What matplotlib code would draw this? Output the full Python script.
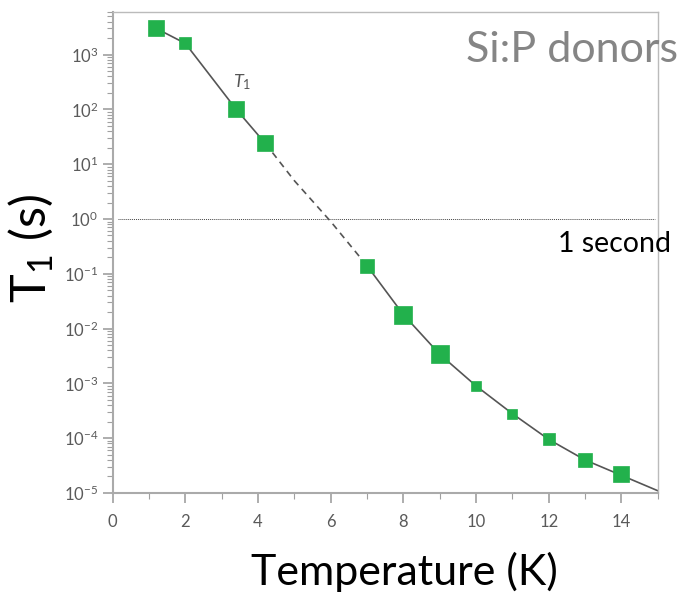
import matplotlib
matplotlib.use('Agg')
import matplotlib.pyplot as plt
from matplotlib.ticker import LogLocator, MultipleLocator, NullFormatter

plt.rcParams['font.family'] = ['Lato', 'DejaVu Sans']
plt.rcParams['mathtext.fontset'] = 'custom'
plt.rcParams['mathtext.rm'] = 'Lato'
plt.rcParams['mathtext.it'] = 'Lato:italic'

# measured T1 points (temperature in K, T1 in s)
temp = [1.2, 2.0, 3.4, 4.2, 7.0, 8.0, 9.0, 10.0, 11.0, 12.0, 13.0, 14.0]
t1 = [3000, 1600, 100, 24, 0.14, 0.018, 0.0034, 0.0009, 0.00028, 0.000095, 0.00004, 0.000022]
msize = [17, 13, 17, 16, 14, 18, 18, 10, 11, 13, 15, 16]  # marker side in px

# fitted curve
fit_t_a = [1.2, 2.0, 3.4, 4.2]
fit_y_a = [3000, 1600, 100, 24]
fit_t_b = [4.2, 5.0, 6.0, 7.0]
fit_y_b = [24, 5.0, 0.9, 0.14]
fit_t_c = [7.0, 8.0, 9.0, 10.0, 11.0, 12.0, 13.0, 14.0, 15.0]
fit_y_c = [0.14, 0.018, 0.0034, 0.0009, 0.00028, 0.000095, 0.00004, 0.000021, 0.000011]

fig = plt.figure(figsize=(6.83, 5.99), dpi=100)
ax = fig.add_axes([0.165, 0.177, 0.798, 0.803])

ax.plot(fit_t_a, fit_y_a, color='#555555', lw=1.2, zorder=2)
ax.plot(fit_t_b, fit_y_b, color='#555555', lw=1.2, ls=(0, (4, 3)), zorder=2)
ax.plot(fit_t_c, fit_y_c, color='#555555', lw=1.2, zorder=2)
for x, y, s in zip(temp, t1, msize):
    ax.plot(x, y, marker='s', ms=s / 1.39, color='#22b14c', mec='#22b14c', mew=0.5,
            ls='none', zorder=3)

# 1 second reference line
ax.axhline(1, xmin=0.01, xmax=0.995, color='#444444', lw=0.7, ls=(0, (1, 1)), zorder=1)

ax.set_yscale('log')
ax.set_xlim(0, 15)
ax.set_ylim(1e-5, 6000)
ax.yaxis.set_major_locator(LogLocator(base=10, numticks=20))
ax.yaxis.set_minor_locator(LogLocator(base=10, subs=range(2, 10), numticks=20))
ax.yaxis.set_minor_formatter(NullFormatter())
ax.xaxis.set_major_locator(MultipleLocator(2))
ax.xaxis.set_minor_locator(MultipleLocator(1))

for side in ['left', 'bottom']:
    ax.spines[side].set_color('#aaaaaa')
    ax.spines[side].set_linewidth(1.5)
for side in ['top', 'right']:
    ax.spines[side].set_color('#bbbbbb')
    ax.spines[side].set_linewidth(1.0)
ax.tick_params(which='both', colors='#a0a0a0', labelcolor='#5a5a5a', labelsize=12)
ax.tick_params(which='major', length=7, width=1.2)
ax.tick_params(which='minor', length=4, width=0.8)
ax.tick_params(axis='x', pad=8)

ax.text(3.3, 250, '$T_1$', fontsize=13, color='#555555')
fig.text(0.993, 0.917, 'Si:P donors', fontsize=31, color='#858585', ha='right', va='center')
fig.text(0.983, 0.593, '1 second', fontsize=20.5, color='black', ha='right', va='center')
fig.text(0.045, 0.585, 'T$_{1}$ (s)', fontsize=35, rotation=90, ha='center', va='center')
fig.text(0.592, 0.045, 'Temperature (K)', fontsize=31, ha='center', va='center')

fig.savefig('out.png', dpi=100)
